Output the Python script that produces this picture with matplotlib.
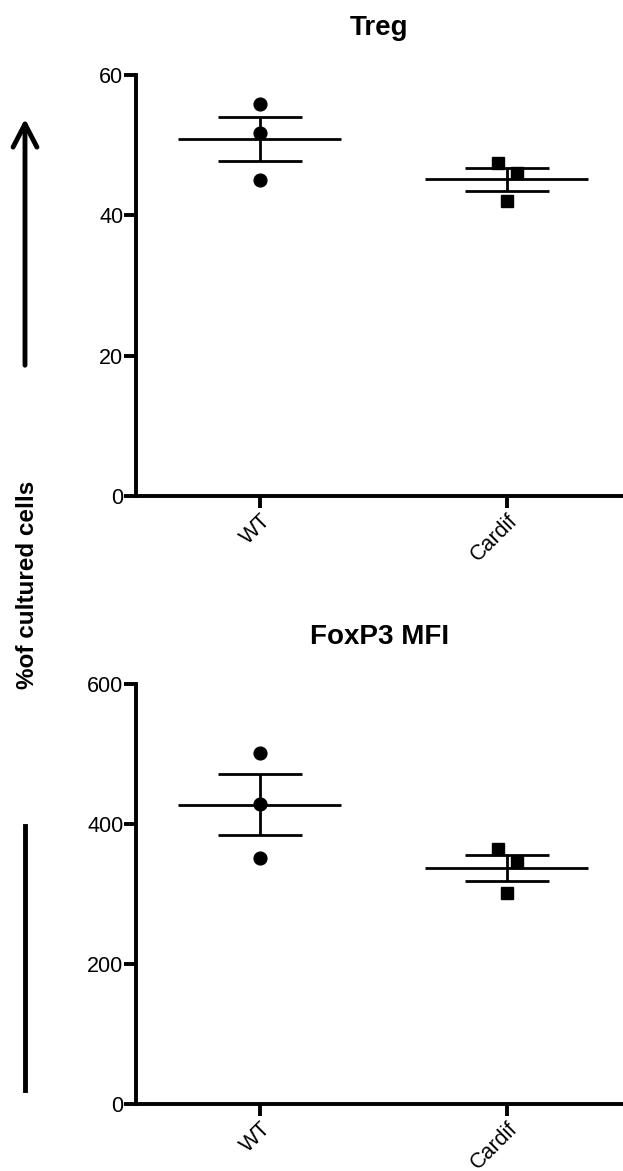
import matplotlib
matplotlib.use("Agg")
import matplotlib.pyplot as plt
import numpy as np

plt.rcParams['font.family'] = ['Liberation Sans', 'DejaVu Sans']

groups = ["WT", "Cardif"]
treg_wt = [55.9, 51.7, 45.1]
treg_cardif = [47.5, 46.0, 42.0]
mfi_wt = [502, 429, 352]
mfi_cardif = [364, 346, 301]
cardif_jitter = [-0.036, 0.04, 0.0]

treg_ticks = [0, 20, 40, 60]
mfi_ticks = [0, 200, 400, 600]

W, H = 623, 1171
fig = plt.figure(figsize=(W / 100, H / 100), dpi=100)

def panel(rect, wt, cd, ticks, title):
    ax = fig.add_axes(rect)
    for i, vals in enumerate([wt, cd]):
        vals = np.array(vals, dtype=float)
        m = vals.mean()
        sem = vals.std(ddof=1) / np.sqrt(len(vals))
        xs = i + (np.array(cardif_jitter) if i == 1 else np.zeros(len(vals)))
        ax.plot(xs, vals, ls='none', marker='o' if i == 0 else 's',
                color='black', markersize=9.2, zorder=3)
        ax.hlines(m, i - 0.33, i + 0.33, color='black', lw=2.0, zorder=2)
        ax.hlines([m - sem, m + sem], i - 0.17, i + 0.17, color='black', lw=2.0, zorder=2)
        ax.vlines(i, m - sem, m + sem, color='black', lw=2.0, zorder=2)
    ax.set_xlim(-0.502, 1.47)
    ax.set_ylim(ticks[0], ticks[-1])
    ax.set_yticks(ticks)
    ax.set_xticks([0, 1])
    ax.set_xticklabels(groups, rotation=45, ha='right', va='top',
                       rotation_mode='anchor')
    for s in ['top', 'right']:
        ax.spines[s].set_visible(False)
    for s in ['left', 'bottom']:
        ax.spines[s].set_linewidth(2.8)
    ax.tick_params(width=2.8, length=8.5, labelsize=15.5, pad=0.5)
    ax.tick_params(axis='x', pad=2)
    ax.set_title(title, fontsize=20, fontweight='bold', pad=28.5)
    ax.patch.set_visible(False)
    return ax

panel([136 / W, 1 - 496 / H, (W - 136) / W, 421 / H], treg_wt, treg_cardif,
      treg_ticks, "Treg")
panel([136 / W, 1 - 1104 / H, (W - 136) / W, 420 / H], mfi_wt, mfi_cardif,
      mfi_ticks, "FoxP3 MFI")

fig.text(28 / W, 1 - 585 / H, "%of cultured cells", rotation=90,
         ha='center', va='center', fontsize=17.5, fontweight='bold')

fig.add_artist(matplotlib.patches.FancyArrowPatch(
    (25 / W, 1 - 368 / H), (25 / W, 1 - 116 / H), transform=fig.transFigure,
    arrowstyle='->,head_length=0.83,head_width=0.43', lw=3.5, color='black',
    mutation_scale=20))
fig.add_artist(matplotlib.lines.Line2D([25 / W, 25 / W], [1 - 1090 / H, 1 - 826 / H],
                                       transform=fig.transFigure, lw=3.5, color='black'))

fig.savefig("out.png", dpi=100)
